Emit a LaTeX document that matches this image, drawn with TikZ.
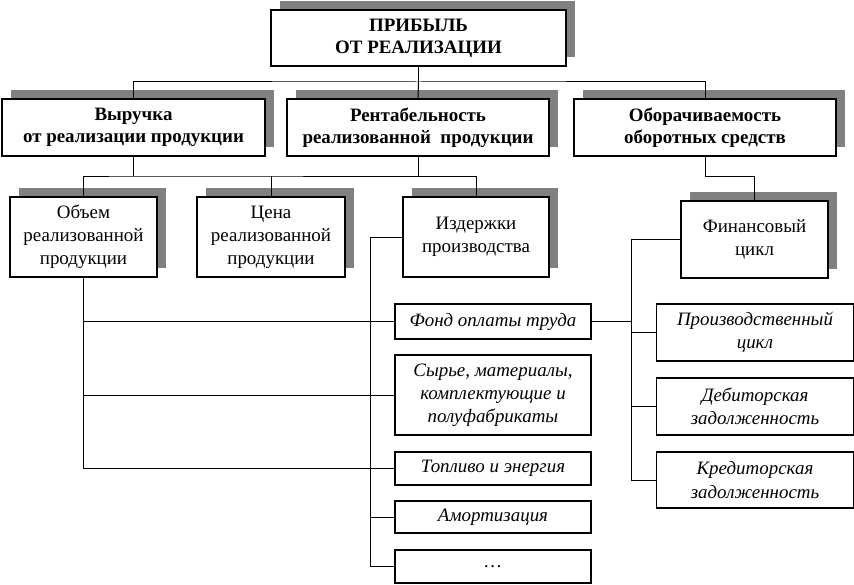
\documentclass[tikz,border=0pt]{standalone}
\usepackage{fontspec}
\setmainfont{Liberation Serif}
\usetikzlibrary{shadows}
\tikzset{
  box/.style={draw=black, line width=0.85pt, fill=white, align=center, inner sep=0pt, font=\fontsize{14.2}{17.3}\selectfont},
  sbox/.style={box, general shadow={fill=black!50, shadow xshift=6.5pt, shadow yshift=7pt}},
  bbox/.style={sbox, font=\fontsize{14.2}{16.5}\selectfont\bfseries},
  ibox/.style={box, font=\fontsize{14.2}{17.3}\selectfont\itshape},
  sz/.style 2 args={minimum width=#1*0.75pt, minimum height=#2*0.75pt},
  conn/.style={draw=black, line width=0.75pt}
}
\begin{document}
\begin{tikzpicture}[x=0.75pt, y=-0.75pt]
\useasboundingbox (0,0) rectangle (854,585);
\node[bbox, sz={295}{56}] (top) at (418.5,38) {ПРИБЫЛЬ\\ОТ РЕАЛИЗАЦИИ};
\node[bbox, sz={263}{57}] (vyr) at (133.5,127.5) {Выручка\\от реализации продукции};
\node[bbox, sz={262}{57}] (rent) at (418,127.5) {Рентабельность\\реализованной\ \ продукции};
\node[bbox, sz={262}{57}] (obor) at (705,127.5) {Оборачиваемость\\оборотных средств};
\node[sbox, sz={147}{80}] (obem) at (83.5,237) {Объем\\реализованной\\продукции};
\node[sbox, sz={148}{80}] (cena) at (271,237) {Цена\\реализованной\\продукции};
\node[sbox, sz={146}{80}] (izd) at (476,237) {Издержки\\производства};
\node[sbox, sz={147}{77}] (fin) at (754.5,239.5) {Финансовый\\цикл};
\node[ibox, sz={196}{35}] (fond) at (493,321.5) {Фонд оплаты труда};
\node[ibox, sz={196}{80}] (syr) at (493,395) {Сырье, материалы,\\комплектующие и\\полуфабрикаты};
\node[ibox, sz={196}{33}] (topl) at (493,468.5) {Топливо и энергия};
\node[ibox, sz={196}{32}] (amort) at (493,517) {Амортизация};
\node[ibox, sz={196}{33}] (dots) at (493,566.5) {\dots};
\node[ibox, sz={197}{57}] (proizv) at (755,332.5) {Производственный\\цикл};
\node[ibox, sz={197}{57}] (deb) at (755,406.5) {Дебиторская\\задолженность};
\node[ibox, sz={197}{56}] (kred) at (755,480) {Кредиторская\\задолженность};
\coordinate (b1) at (418.5,82);
\coordinate (b2) at (133.5,176);
\coordinate (izx) at (370,237);
\coordinate (fx) at (631,239.5);
\draw[conn] (top.south) -- (b1);
\draw[conn] (vyr.north) |- (b1) -| (obor.north);
\draw[conn] (b1) -- (rent.north);
\draw[conn] (vyr.south) -- (b2);
\draw[conn] (obem.north) |- (b2) -| (izd.north);
\draw[conn] (rent.south) -- (rent.south |- b2);
\draw[conn] (cena.north) -- (cena.north |- b2);
\draw[conn] (obor.south) -- (obor.south |- b2) -| (fin.north);
\draw[conn] (obem.south) |- (topl.west);
\draw[conn] (obem.south |- fond.west) -- (fond.west);
\draw[conn] (obem.south |- syr.west) -- (syr.west);
\draw[conn] (izd.west) -- (izx) |- (dots.west);
\draw[conn] (izx |- fond.west) -- (fond.west);
\draw[conn] (izx |- topl.west) -- (topl.west);
\draw[conn] (izx |- amort.west) -- (amort.west);
\draw[conn] (fin.west) -- (fx) |- (kred.west);
\draw[conn] (fond.east) -- (fond.east -| fx);
\draw[conn] (fx |- proizv.west) -- (proizv.west);
\draw[conn] (fx |- deb.west) -- (deb.west);
\end{tikzpicture}
\end{document}
